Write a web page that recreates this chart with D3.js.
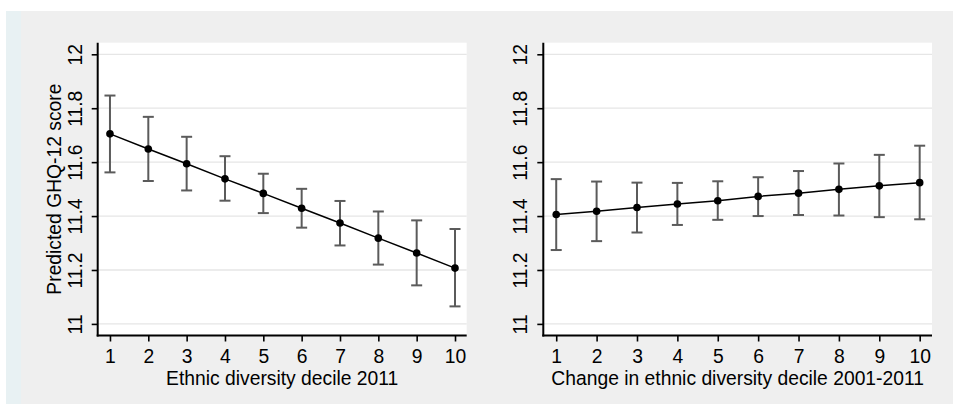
<!DOCTYPE html>
<html>
<head>
<meta charset="utf-8">
<script src="https://cdn.jsdelivr.net/npm/d3@7"></script>
<style>
  body { margin: 0; background: #ffffff; }
  svg text { font-family: "Liberation Sans", Arial, Helvetica, sans-serif; fill: #000; }
</style>
</head>
<body>
<svg id="chart" width="953" height="404"></svg>
<script>
// deciles on the x axis
var deciles = [1, 2, 3, 4, 5, 6, 7, 8, 9, 10];
var yTicks = [11, 11.2, 11.4, 11.6, 11.8, 12];

// left panel: ethnic diversity decile 2011
var leftEst = [11.705, 11.649, 11.594, 11.538, 11.484, 11.429, 11.374, 11.318, 11.263, 11.207];
var leftHi  = [11.847, 11.768, 11.694, 11.622, 11.557, 11.501, 11.456, 11.417, 11.384, 11.352];
var leftLo  = [11.562, 11.530, 11.495, 11.457, 11.411, 11.357, 11.291, 11.220, 11.143, 11.065];

// right panel: change in ethnic diversity decile 2001-2011
var rightEst = [11.406, 11.418, 11.432, 11.445, 11.457, 11.473, 11.485, 11.499, 11.512, 11.524];
var rightHi  = [11.537, 11.528, 11.524, 11.523, 11.529, 11.544, 11.567, 11.595, 11.627, 11.661];
var rightLo  = [11.274, 11.307, 11.339, 11.367, 11.386, 11.400, 11.404, 11.402, 11.396, 11.388];

var fontSize = "19.3px";
var svg = d3.select("#chart");

// stata style grey backdrop with the pale strip on the left
svg.append("rect").attr("x", 6).attr("y", 11).attr("width", 947).attr("height", 393).attr("fill", "#efefef");
svg.append("rect").attr("x", 6).attr("y", 11).attr("width", 15).attr("height", 393).attr("fill", "#e8f1f3");

function panel(left, right, est, hi, lo, xTitle, yTitle) {
  var top = 42.7, bottom = 335.5;

  var x = d3.scaleLinear().domain([0.68, 10.305]).range([left, right]);
  var y = d3.scaleLinear().domain([10.957, 12.043]).range([bottom, top]);

  var g = svg.append("g");

  // white plot region
  g.append("rect")
    .attr("x", left).attr("y", top)
    .attr("width", right - left).attr("height", bottom - top)
    .attr("fill", "#ffffff");

  // horizontal gridlines
  g.selectAll(".grid")
    .data(yTicks)
    .enter().append("line")
    .attr("x1", left).attr("x2", right)
    .attr("y1", function(d) { return y(d); })
    .attr("y2", function(d) { return y(d); })
    .attr("stroke", "#e6e6e6")
    .attr("stroke-width", 1.3);

  // y axis
  var yAxis = g.append("g")
    .attr("transform", "translate(" + left + ",0)")
    .call(d3.axisLeft(y).tickValues(yTicks).tickSize(6).tickPadding(0).tickFormat(d3.format("~g")));
  yAxis.select(".domain").remove();
  yAxis.selectAll(".tick line").attr("stroke", "#000").attr("stroke-width", 1.6);
  yAxis.selectAll(".tick text")
    .attr("x", 0).attr("dy", 0)
    .attr("transform", "translate(-16,0) rotate(-90)")
    .attr("text-anchor", "middle")
    .style("font-size", fontSize);
  g.append("line")
    .attr("x1", left).attr("x2", left).attr("y1", top).attr("y2", bottom + 1)
    .attr("stroke", "#000").attr("stroke-width", 2);

  // x axis
  var xAxis = g.append("g")
    .attr("transform", "translate(0," + bottom + ")")
    .call(d3.axisBottom(x).tickValues(deciles).tickSize(6).tickPadding(0).tickFormat(d3.format("d")));
  xAxis.select(".domain").remove();
  xAxis.selectAll(".tick line").attr("stroke", "#000").attr("stroke-width", 1.6);
  xAxis.selectAll(".tick text")
    .attr("y", 27.5).attr("dy", 0)
    .style("font-size", fontSize);
  g.append("line")
    .attr("x1", left - 1).attr("x2", right).attr("y1", bottom).attr("y2", bottom)
    .attr("stroke", "#000").attr("stroke-width", 2);

  // axis titles
  g.append("text")
    .attr("x", (left + right) / 2).attr("y", 384.5)
    .attr("text-anchor", "middle")
    .style("font-size", fontSize)
    .text(xTitle);

  if (yTitle) {
    g.append("text")
      .attr("transform", "translate(" + (left - 37) + "," + ((top + bottom) / 2) + ") rotate(-90)")
      .attr("text-anchor", "middle")
      .style("font-size", fontSize)
      .text(yTitle);
  }

  // confidence intervals
  var rows = deciles.map(function(d, i) { return {d: d, est: est[i], hi: hi[i], lo: lo[i]}; });

  var bars = g.selectAll(".ci").data(rows).enter().append("g");
  bars.append("line")
    .attr("x1", function(r) { return x(r.d); }).attr("x2", function(r) { return x(r.d); })
    .attr("y1", function(r) { return y(r.hi); }).attr("y2", function(r) { return y(r.lo); })
    .attr("stroke", "#5b5b5b").attr("stroke-width", 2);
  bars.append("line")
    .attr("x1", function(r) { return x(r.d) - 5.5; }).attr("x2", function(r) { return x(r.d) + 5.5; })
    .attr("y1", function(r) { return y(r.hi); }).attr("y2", function(r) { return y(r.hi); })
    .attr("stroke", "#5b5b5b").attr("stroke-width", 2);
  bars.append("line")
    .attr("x1", function(r) { return x(r.d) - 5.5; }).attr("x2", function(r) { return x(r.d) + 5.5; })
    .attr("y1", function(r) { return y(r.lo); }).attr("y2", function(r) { return y(r.lo); })
    .attr("stroke", "#5b5b5b").attr("stroke-width", 2);

  // estimate line and markers
  var line = d3.line()
    .x(function(r) { return x(r.d); })
    .y(function(r) { return y(r.est); });

  g.append("path")
    .datum(rows)
    .attr("d", line)
    .attr("fill", "none")
    .attr("stroke", "#000")
    .attr("stroke-width", 1.5);

  g.selectAll(".pt").data(rows).enter().append("circle")
    .attr("cx", function(r) { return x(r.d); })
    .attr("cy", function(r) { return y(r.est); })
    .attr("r", 3.8)
    .attr("fill", "#000");
}

panel(97.7, 466.7, leftEst, leftHi, leftLo, "Ethnic diversity decile 2011", "Predicted GHQ-12 score");
panel(543.3, 932, rightEst, rightHi, rightLo, "Change in ethnic diversity decile 2001-2011", null);
</script>
</body>
</html>
